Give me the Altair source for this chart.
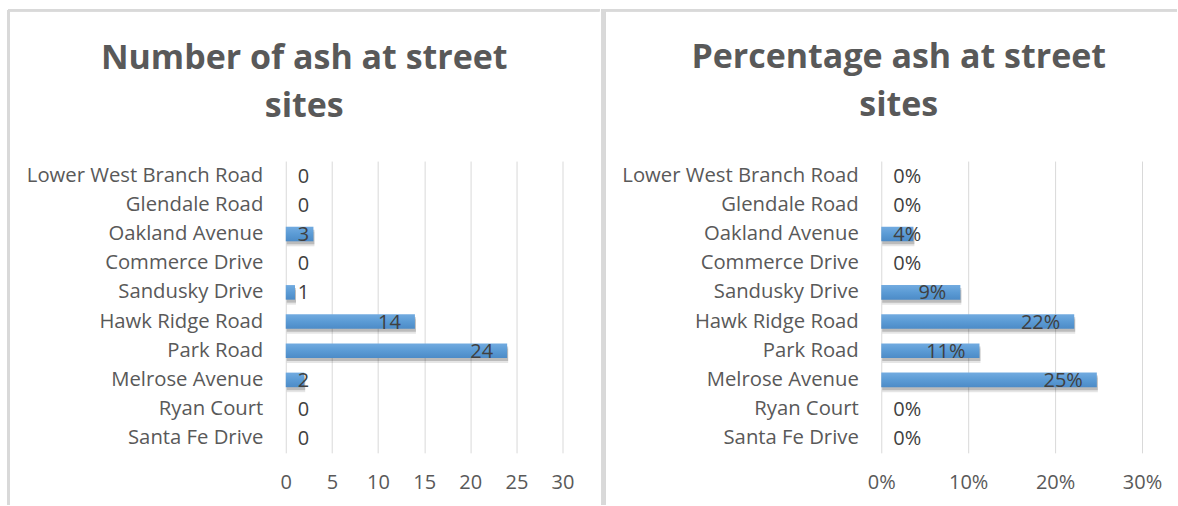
import altair as alt
import pandas as pd

streets = ["Lower West Branch Road", "Glendale Road", "Oakland Avenue", "Commerce Drive",
           "Sandusky Drive", "Hawk Ridge Road", "Park Road", "Melrose Avenue",
           "Ryan Court", "Santa Fe Drive"]
counts = [0, 0, 3, 0, 1, 14, 24, 2, 0, 0]
percents = [0, 0, 0.037, 0, 0.091, 0.222, 0.113, 0.248, 0, 0]

title_left = ["Number of ash at street", "sites"]
title_right = ["Percentage ash at street", "sites"]

df = pd.DataFrame({"street": streets, "count": counts, "pct": percents})

FONT = "Open Sans"
BORDER = "#d9d9d9"
PLOT_W_LEFT = 277
PLOT_W_RIGHT = 261
PLOT_H = 292

grad = alt.Gradient(gradient="linear", x1=0, x2=0, y1=0, y2=1,
                    stops=[alt.GradientStop(color="#72abe0", offset=0),
                           alt.GradientStop(color="#5b9bd5", offset=0.5),
                           alt.GradientStop(color="#4c8bc7", offset=1)])


def panel(field, domain, ticks, fmt, width, small_limit, title, title_dx,
          left_rule_x, top_from, top_to, divider_x=None):
    y = alt.Y("street:N", sort=streets, title=None,
              scale=alt.Scale(paddingInner=0.5, paddingOuter=0.25),
              axis=alt.Axis(labelFont=FONT, labelFontSize=20.3, labelColor="#595959",
                            labelPadding=23, ticks=False, domain=False, grid=False,
                            labelLimit=400))
    x = alt.X(f"{field}:Q", title=None,
              scale=alt.Scale(domain=domain, nice=False),
              axis=alt.Axis(values=ticks, format=fmt, labelFont=FONT, labelFontSize=20,
                            labelColor="#595959", labelPadding=20, ticks=False,
                            labelFlush=False, labelOverlap=False,
                            domain=False, grid=True, gridColor=BORDER, gridWidth=1))
    base = alt.Chart(df).encode(y=y)
    shadow = base.transform_filter(alt.datum[field] > 0).mark_bar(
        color="#000000", opacity=0.18, xOffset=1, x2Offset=3, yOffset=3
    ).encode(x=x)
    shadow2 = base.transform_filter(alt.datum[field] > 0).mark_bar(
        color="#000000", opacity=0.10, xOffset=1, x2Offset=5, yOffset=5
    ).encode(x=x)
    bars = base.mark_bar(color=grad).encode(x=x)
    big = base.transform_filter(alt.datum[field] >= small_limit).mark_text(
        align="right", dx=-14, font=FONT, fontSize=20, color="#404040", baseline="middle", dy=1
    ).encode(x=x, text=alt.Text(f"{field}:Q", format=fmt))
    small = base.transform_filter(alt.datum[field] < small_limit).mark_text(
        align="left", dx=12, font=FONT, fontSize=20, color="#404040", baseline="middle", dy=1
    ).encode(x=alt.datum(0), text=alt.Text(f"{field}:Q", format=fmt))

    layers = [shadow2, shadow, bars, big, small]
    rule_top = alt.Chart(df).mark_rule(color=BORDER, strokeWidth=2).encode(
        x=alt.value(top_from), x2=alt.value(top_to), y=alt.value(-151))
    layers.append(rule_top)
    if left_rule_x is not None:
        rule_left = alt.Chart(df).mark_rule(color=BORDER, strokeWidth=2.5).encode(
            x=alt.value(left_rule_x), y=alt.value(-151), y2=alt.value(344))
        layers.append(rule_left)
    if divider_x is not None:
        rule_div = alt.Chart(df).mark_rule(color=BORDER, strokeWidth=4).encode(
            x=alt.value(divider_x), y=alt.value(-151), y2=alt.value(344))
        layers.append(rule_div)

    return alt.layer(*layers).properties(
        width=width, height=PLOT_H,
        title=alt.TitleParams(text=title, anchor="middle", frame="group",
                              font=FONT, fontSize=34, fontWeight="bold", color="#595959",
                              lineHeight=48, offset=-115, dx=title_dx)
    )


left = panel("count", [0, 30], [0, 5, 10, 15, 20, 25, 30], "d", PLOT_W_LEFT, 5,
             title_left, -120, left_rule_x=-277.5, top_from=-278, top_to=314)
right = panel("pct", [0, 0.3], [0, 0.1, 0.2, 0.3], ".0%", PLOT_W_RIGHT, 0.06,
              title_right, -113, left_rule_x=None, top_from=-280, top_to=296, divider_x=-278)

chart = alt.hconcat(left, right, spacing=0).properties(
    padding={"left": 7, "top": 8, "right": 0, "bottom": 0},
    background="white"
).configure_view(stroke=None)

chart.save("out.html", embed_options={"renderer": "svg", "actions": False})
